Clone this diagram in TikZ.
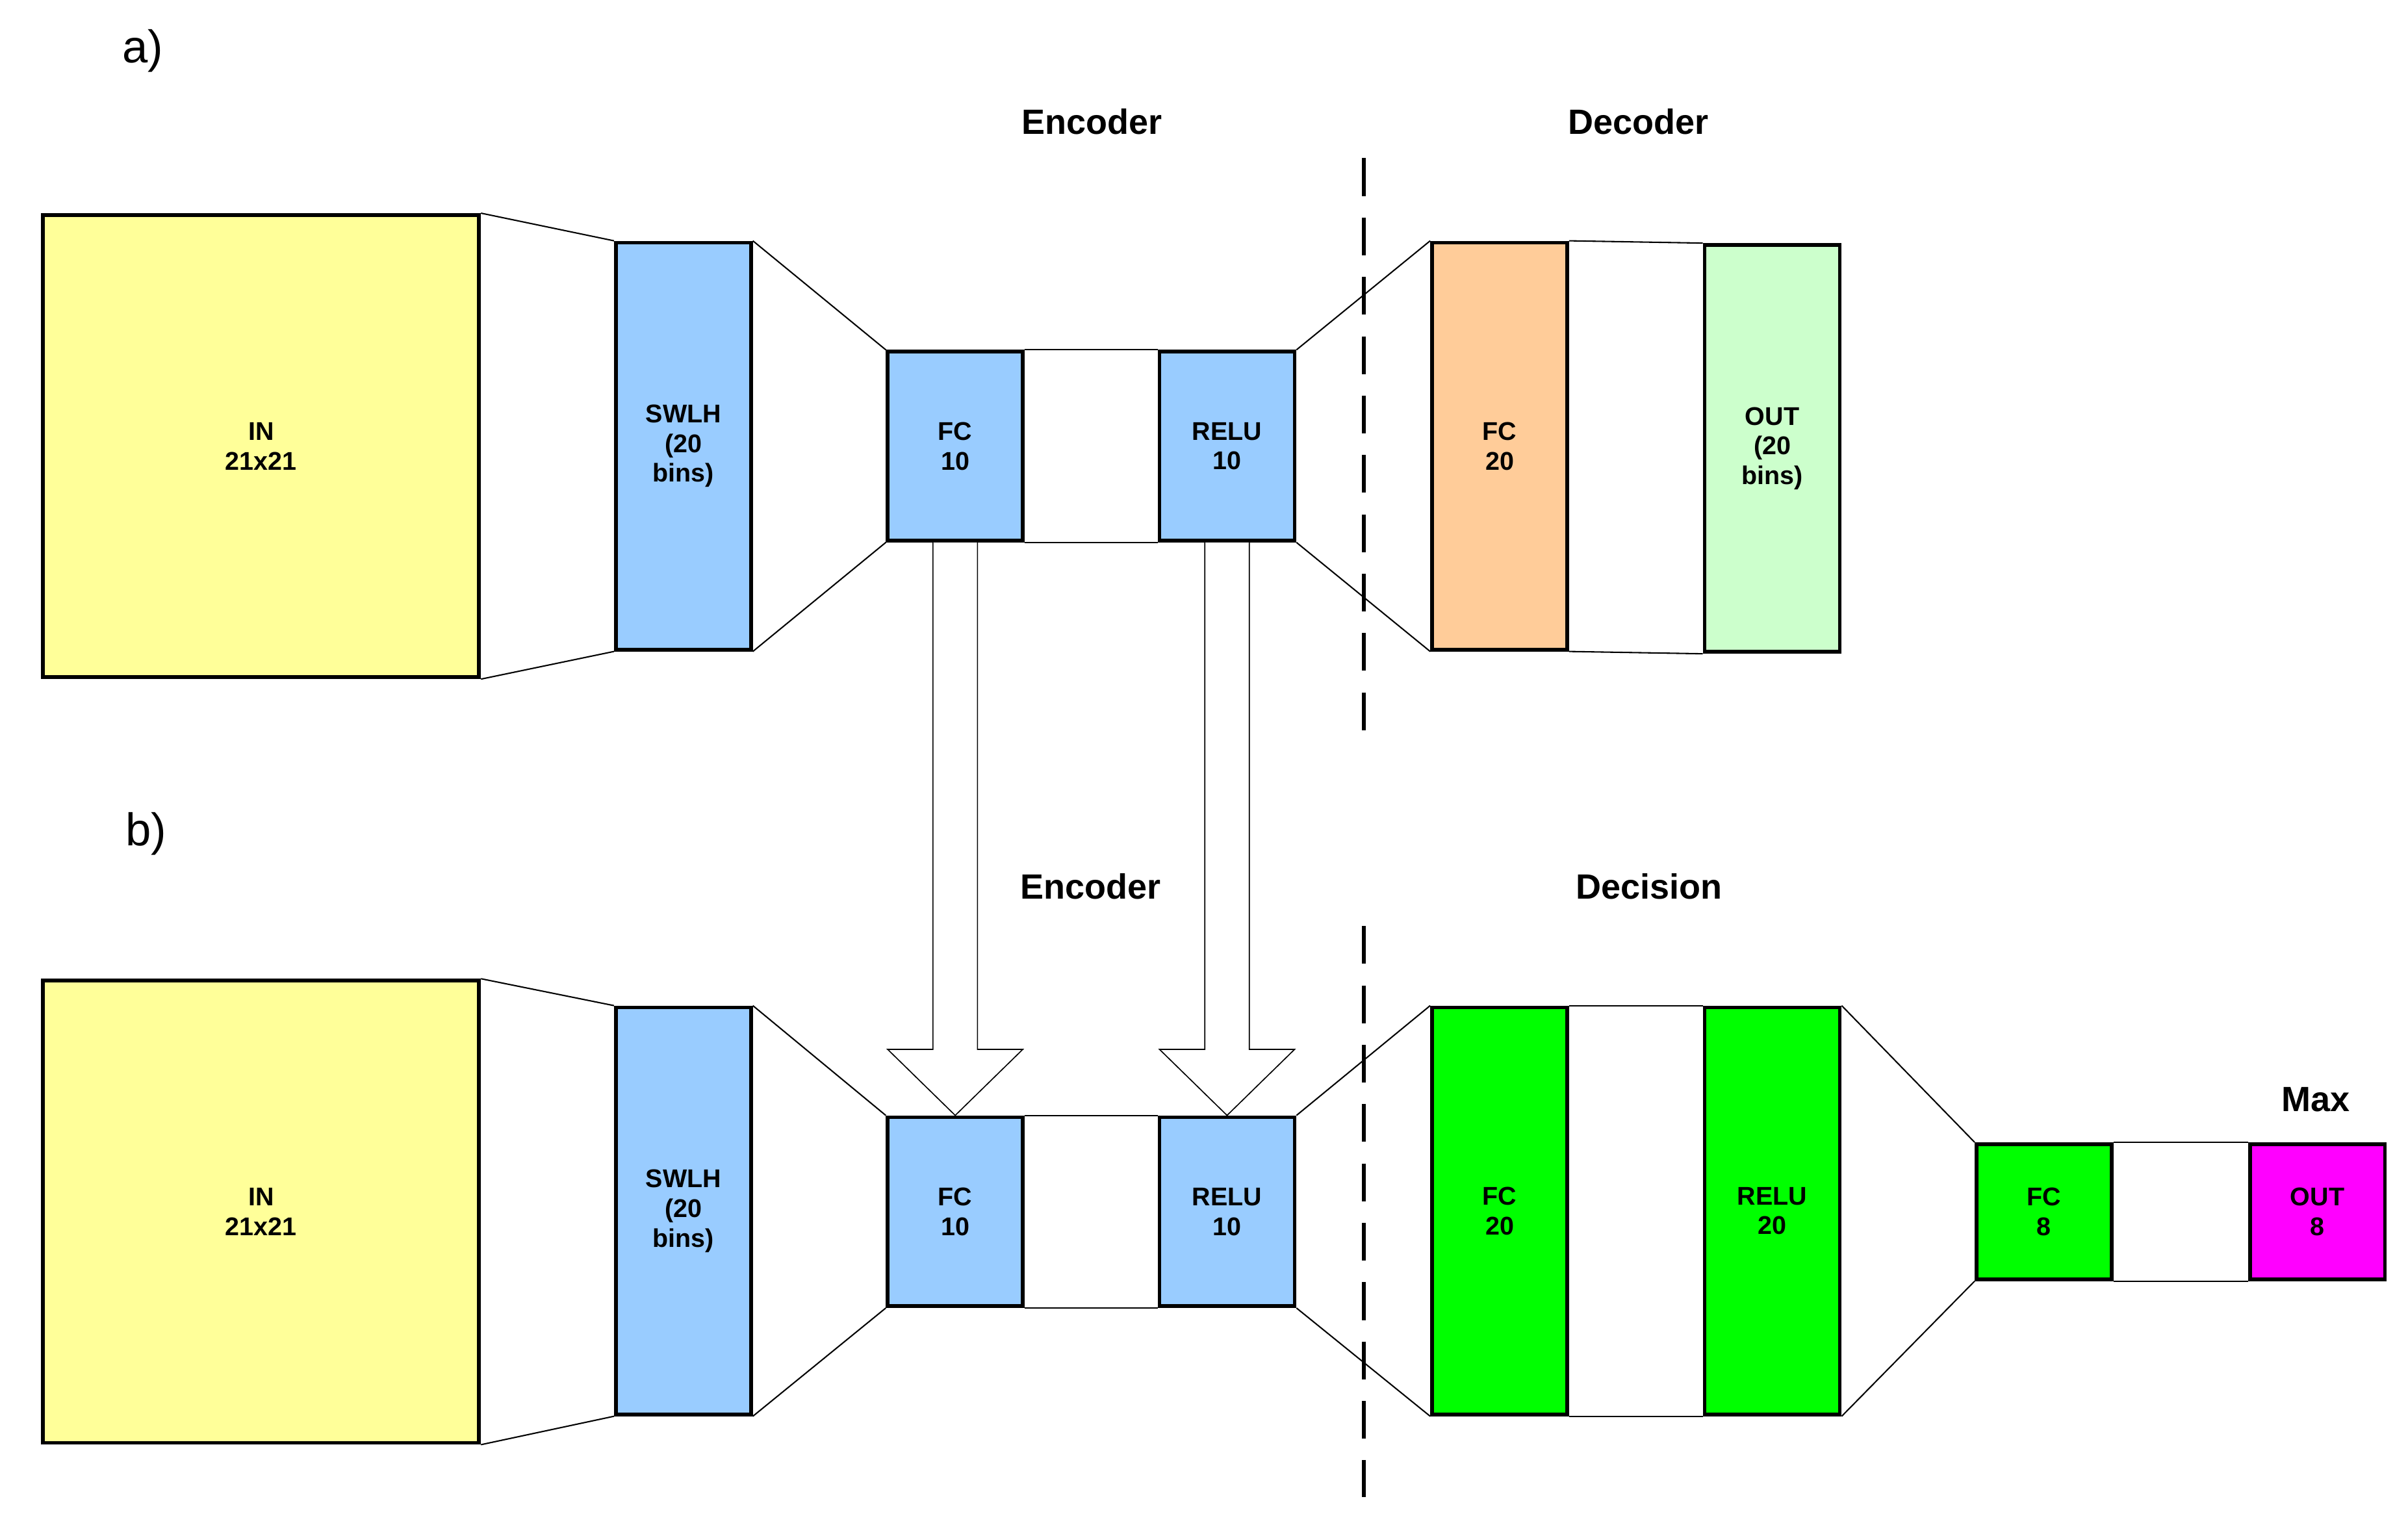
\documentclass[tikz,border=0pt]{standalone}
\usepackage{fontspec}
\setmainfont{Liberation Sans}
\usetikzlibrary{calc}
\definecolor{inyel}{HTML}{FFFF99}
\definecolor{encblue}{HTML}{99CCFF}
\definecolor{decorange}{HTML}{FFCC99}
\definecolor{outgreen}{HTML}{CCFFCC}
\definecolor{dgreen}{HTML}{00FF00}
\definecolor{maxmag}{HTML}{FF00FF}
\newcommand{\hollowarrow}[2]{%
  \draw [thin,fill=white]
  ($(#1.south)+(-14.5,0)$) -- ($(#2.north)+(-14.5,-43)$) --
  ($(#2.north)+(-44,-43)$) -- (#2.north) -- ($(#2.north)+(44,-43)$) --
  ($(#2.north)+(14.5,-43)$) -- ($(#1.south)+(14.5,0)$);}
\newcommand{\linkup}[2]{%
  \draw [link] (#1.north east) -- (#2.north west);
  \draw [link] (#1.south east) -- (#2.south west);}
\begin{document}
\begin{tikzpicture}
    [x=0.02cm,y=-0.02cm,
      block/.style={rectangle,draw=black,line width=1.4pt,align=center,
        font=\fontsize{9.5}{11}\selectfont\bfseries,inner sep=0pt},
      big/.style={block,minimum width=5.68cm,minimum height=6.02cm,fill=inyel},
      tall/.style={block,minimum width=1.76cm,minimum height=5.3cm},
      small/.style={block,minimum width=1.76cm,minimum height=2.46cm,fill=encblue},
      tiny/.style={block,minimum width=1.76cm,minimum height=1.76cm},
      link/.style={line width=0.5pt},
      title/.style={font=\fontsize{13}{15}\selectfont\bfseries},
      part/.style={font=\fontsize{17}{19}\selectfont},
      split/.style={line width=1.6pt,dash pattern=on 14pt off 8pt}
    ]
    \useasboundingbox (0,0) rectangle (1568,993);

    % a) autoencoder
    \node [part] (lblA) at (93,33) {a)};
    \node [title] (encA) at (711,79) {Encoder};
    \node [title] (decA) at (1067,79) {Decoder};
    \node [big] (inA) at (170,290.5) {IN\\21x21};
    \node [tall,fill=encblue] (swlhA) at (445,290.5) {SWLH\\(20\\bins)};
    \node [small] (fcA) at (622,290.5) {FC\\10};
    \node [small] (reluA) at (799,290.5) {RELU\\10};
    \node [tall,fill=decorange] (fcdA) at (976.5,290.5) {FC\\20};
    \node [tall,fill=outgreen] (outA) at (1154,292) {OUT\\(20\\bins)};
    \coordinate (cutAtop) at (888,103);
    \coordinate (cutAbot) at (888,478);
    \draw [split] (cutAtop) -- (cutAbot);
    \linkup{inA}{swlhA}
    \linkup{swlhA}{fcA}
    \linkup{fcA}{reluA}
    \linkup{reluA}{fcdA}
    \linkup{fcdA}{outA}

    % b) classifier
    \node [part] (lblB) at (95,543) {b)};
    \node [title] (encB) at (710,577) {Encoder};
    \node [title] (decB) at (1074,577) {Decision};
    \node [title] (maxB) at (1508,716) {Max};
    \node [big] (inB) at (170,789) {IN\\21x21};
    \node [tall,fill=encblue] (swlhB) at (445,788.5) {SWLH\\(20\\bins)};
    \node [small] (fcB) at (622,789) {FC\\10};
    \node [small] (reluB) at (799,789) {RELU\\10};
    \node [tall,fill=dgreen] (fcdB) at (976.5,788.5) {FC\\20};
    \node [tall,fill=dgreen] (reludB) at (1154,788.5) {RELU\\20};
    \node [tiny,fill=dgreen] (fceB) at (1331,789) {FC\\8};
    \node [tiny,fill=maxmag] (outB) at (1509,789) {OUT\\8};
    \coordinate (cutBtop) at (888,603);
    \coordinate (cutBbot) at (888,975);
    \draw [split] (cutBtop) -- (cutBbot);
    \linkup{inB}{swlhB}
    \linkup{swlhB}{fcB}
    \linkup{fcB}{reluB}
    \linkup{reluB}{fcdB}
    \linkup{fcdB}{reludB}
    \linkup{reludB}{fceB}
    \linkup{fceB}{outB}

    \hollowarrow{fcA}{fcB}
    \hollowarrow{reluA}{reluB}
  \end{tikzpicture}
\end{document}
